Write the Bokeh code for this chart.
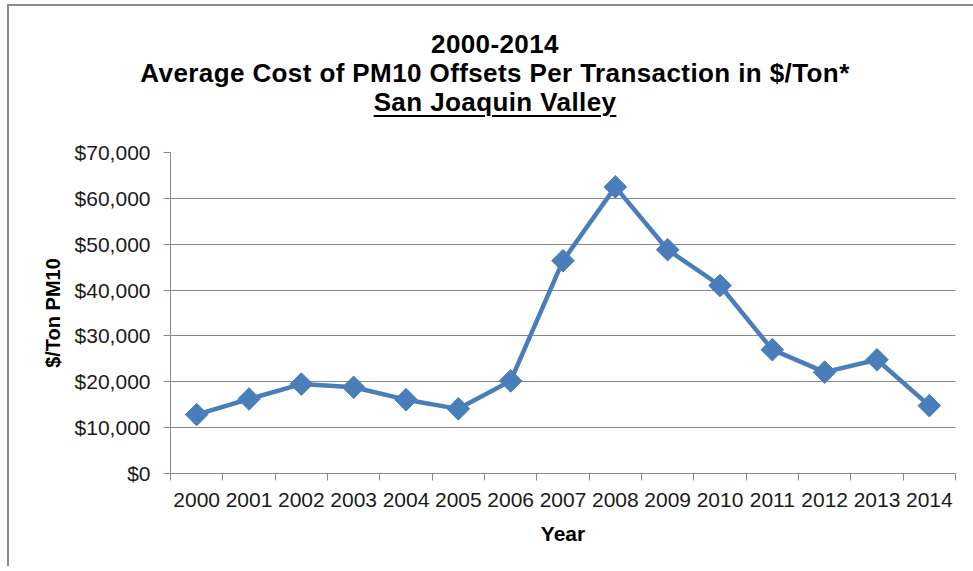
import numpy as np
from bokeh.plotting import figure
from bokeh.layouts import column
from bokeh.models import (ColumnDataSource, FixedTicker, NumeralTickFormatter,
                          Range1d, Div)
from bokeh.embed import file_html
from bokeh.resources import INLINE

years = ["2000", "2001", "2002", "2003", "2004", "2005", "2006", "2007",
         "2008", "2009", "2010", "2011", "2012", "2013", "2014"]
cost = [12850, 16250, 19500, 18800, 16100, 14100, 20200, 46400,
        62500, 48800, 41000, 27000, 22100, 24800, 14800]
y_ticks = [0, 10000, 20000, 30000, 40000, 50000, 60000, 70000]
title_lines = ["2000-2014",
               "Average Cost of PM10 Offsets Per Transaction in $/Ton*",
               "San Joaquin Valley"]

FONT = "Liberation Sans"
GRAY = "#888888"
BLUE = "#4a7ebb"

W = 964
DIV_H = 130
H = 430
FL, FT, FB = 161, 16, 337   # frame left/top/bottom in figure canvas px
idx = np.arange(len(years))
centers = (idx + 0.5).tolist()
bounds = list(range(len(years) + 1))

src = ColumnDataSource(dict(x=centers, y=cost, year=years))

title_html = (
    "<div style=\"width:930px;margin-left:21px;text-align:center;"
    "font-family:'Liberation Sans',Arial,sans-serif;letter-spacing:0.4px;"
    "font-weight:bold;font-size:26px;line-height:29px;color:black;padding-top:24px;\">"
    "%s<br>%s<br><span style=\"text-decoration:underline;text-decoration-thickness:2px;"
    "text-underline-offset:4px;\">%s</span></div>"
    % (title_lines[0], title_lines[1], title_lines[2])
)
title = Div(text=title_html, width=W, height=DIV_H, margin=0)

p = figure(width=W, height=H, output_backend="svg", toolbar_location=None,
           x_range=Range1d(0, len(years)), y_range=Range1d(0, 70000),
           min_border_left=FL, min_border_right=18,
           min_border_top=FT, min_border_bottom=H - FB, margin=0)
p.outline_line_color = None
p.background_fill_color = "white"
p.border_fill_color = "white"

# axes
xa = p.xaxis[0]
xa.ticker = FixedTicker(ticks=centers, minor_ticks=bounds)
xa.major_label_overrides = {c: y for c, y in zip(centers, years)}
xa.major_tick_line_color = None
xa.minor_tick_out = 7
xa.minor_tick_in = 0
xa.minor_tick_line_color = GRAY
xa.axis_line_color = GRAY
xa.major_label_text_font = FONT
xa.major_label_text_font_size = "21px"
xa.major_label_text_color = "#1a1a1a"
xa.major_label_standoff = 12
xa.axis_label = "Year"
xa.axis_label_text_font = FONT
xa.axis_label_text_font_size = "21px"
xa.axis_label_text_font_style = "bold"
xa.axis_label_text_color = "black"
xa.axis_label_standoff = 12

ya = p.yaxis[0]
ya.ticker = FixedTicker(ticks=y_ticks)
ya.formatter = NumeralTickFormatter(format="$0,0")
ya.major_tick_out = 7
ya.major_tick_in = 0
ya.major_tick_line_color = GRAY
ya.minor_tick_line_color = None
ya.axis_line_color = GRAY
ya.major_label_text_font = FONT
ya.major_label_text_font_size = "21px"
ya.major_label_text_color = "#1a1a1a"
ya.major_label_standoff = 13
ya.axis_label = "$/Ton PM10"
ya.axis_label_text_font = FONT
ya.axis_label_text_font_size = "20px"
ya.axis_label_text_font_style = "bold"
ya.axis_label_text_color = "black"
ya.axis_label_standoff = 8

p.xgrid.grid_line_color = None
p.ygrid.ticker = FixedTicker(ticks=y_ticks)
p.ygrid.grid_line_color = GRAY
p.ygrid.grid_line_width = 1

p.line("x", "y", source=src, line_color=BLUE, line_width=4.5)
p.scatter("x", "y", source=src, marker="square", size=16, angle=np.pi / 4,
          fill_color=BLUE, line_color=BLUE)

layout = column(title, p, spacing=0)
layout.styles = {"margin-left": "7px", "margin-top": "4px",
                 "border-left": "2px solid #8a8a8a", "border-top": "2px solid #8a8a8a",
                 "background-color": "white"}

open("out.html", "w").write(file_html(layout, INLINE))
